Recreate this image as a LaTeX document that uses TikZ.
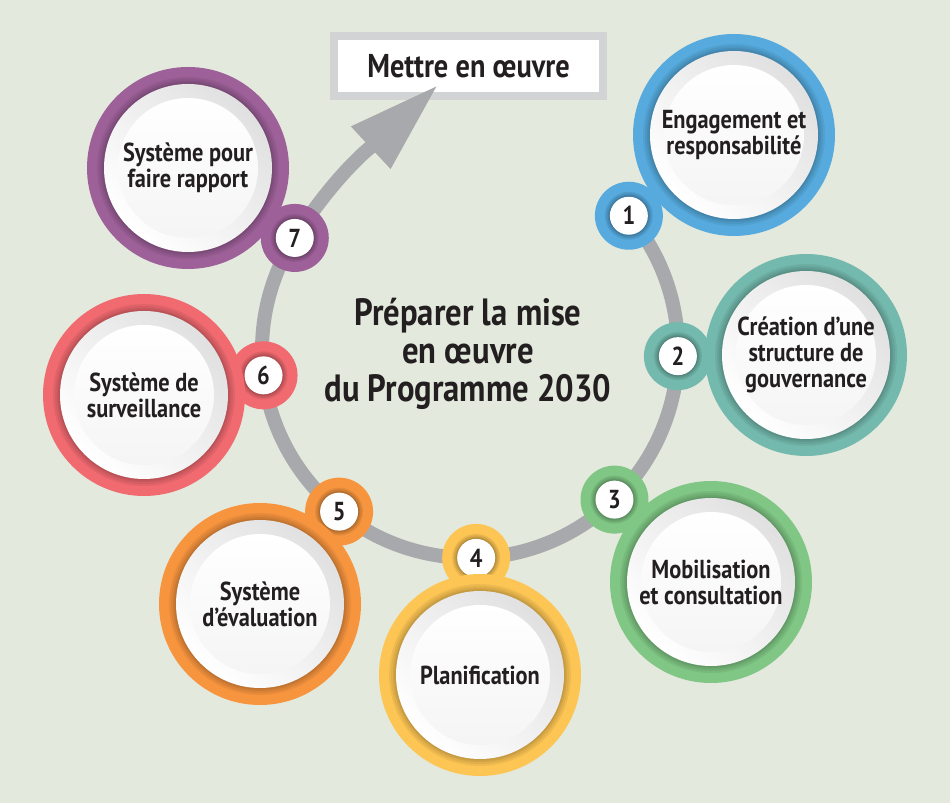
\documentclass[tikz,border=0pt]{standalone}
\usepackage{fontspec}
\newfontfamily\condfont{PT Sans}[FakeStretch=0.86]
\usetikzlibrary{arrows.meta}

\definecolor{bgcol}{HTML}{E3E9DD}
\definecolor{ink}{HTML}{231F20}
\definecolor{arcgray}{HTML}{A7A9AC}
\definecolor{boxgray}{HTML}{D1D3D4}
\definecolor{cblue}{HTML}{56AADE}
\definecolor{cteal}{HTML}{73B9AD}
\definecolor{cgreen}{HTML}{80C684}
\definecolor{cyellow}{HTML}{FDC654}
\definecolor{corange}{HTML}{F7953F}
\definecolor{cred}{HTML}{F06A70}
\definecolor{cpurple}{HTML}{9D6098}

\pgfdeclarelayer{background}
\pgfdeclarelayer{back}
\pgfsetlayers{background,back,main}

\tikzset{
	stage/.style={circle, minimum size=202pt, inner sep=0pt, fill=#1, text=ink, align=center,
		font=\condfont\bfseries\fontsize{26}{26}\selectfont,
		path picture={
			\foreach \s in {7,5,3,1.5}
				\fill[black, opacity=0.06] (path picture bounding box.center) circle[radius=84+\s];
			\shade[top color=black!12, bottom color=white, shading angle=-45] (path picture bounding box.center) circle[radius=84];
			\shade[top color=white, bottom color=black!4] (path picture bounding box.center) circle[radius=70];
		}},
	badge/.style={circle, minimum size=68pt, inner sep=0pt, fill=#1, text=ink,
		font=\condfont\bfseries\fontsize{26}{26}\selectfont,
		path picture={
			\foreach \s in {5,3.5,2,1}
				\fill[black, opacity=0.08] (path picture bounding box.center) circle[radius=19+\s];
			\fill[white] (path picture bounding box.center) circle[radius=19];
		}},
	track/.style={draw=arcgray, line width=14pt},
	goalbox/.style={draw=boxgray, line width=8pt, fill=white, minimum width=269pt, minimum height=60pt,
		inner sep=0pt, text=ink, font=\condfont\bfseries\fontsize{33}{33}\selectfont},
	title/.style={align=center, text=ink, font=\condfont\bfseries\fontsize{38}{38}\selectfont}
}

\begin{document}
\begin{tikzpicture}[x=1pt, y=1pt]
	\begin{pgfonlayer}{background}
		\useasboundingbox[fill=bgcol] (0,0) rectangle (950,803);
		\node[goalbox] (goal) at (468.5,737) {Mettre en œuvre};
	\end{pgfonlayer}
	\coordinate (hub) at (470,453);
	\coordinate (tip) at (438,718);
	\node[title] (title) at (468,449) {Préparer la mise\\en œuvre\\du Programme 2030};

	\foreach \i/\ang/\cx/\cy/\col/\txt in {
		1/40.2/734/668/cblue/{Engagement et\\responsabilité},
		2/-1.7/806/448/cteal/{Création d’une\\structure de\\gouvernance},
		3/-46/711/221/cgreen/{Mobilisation\\et consultation},
		4/-88.3/480/128/cyellow/{Planification},
		5/-129/260/199/corange/{Système\\d’évaluation},
		6/-173/144/408/cred/{Système de\\surveillance},
		7/-212.6/188/635/cpurple/{Système pour\\faire rapport}}{
		\node[badge=\col] (b\i) at ([shift={(\ang:208)}]hub) {\i};
		\node[stage=\col] (c\i) at (\cx,\cy) {\txt};
	}

	\begin{pgfonlayer}{back}
		\draw[track] (b1.center) arc[start angle=40.2, end angle=-212.6, radius=208];
		\draw[track, -{Triangle[length=92pt, width=54pt]}] (b7.center) to[out=57.4, in=223] (tip);
	\end{pgfonlayer}
\end{tikzpicture}
\end{document}
